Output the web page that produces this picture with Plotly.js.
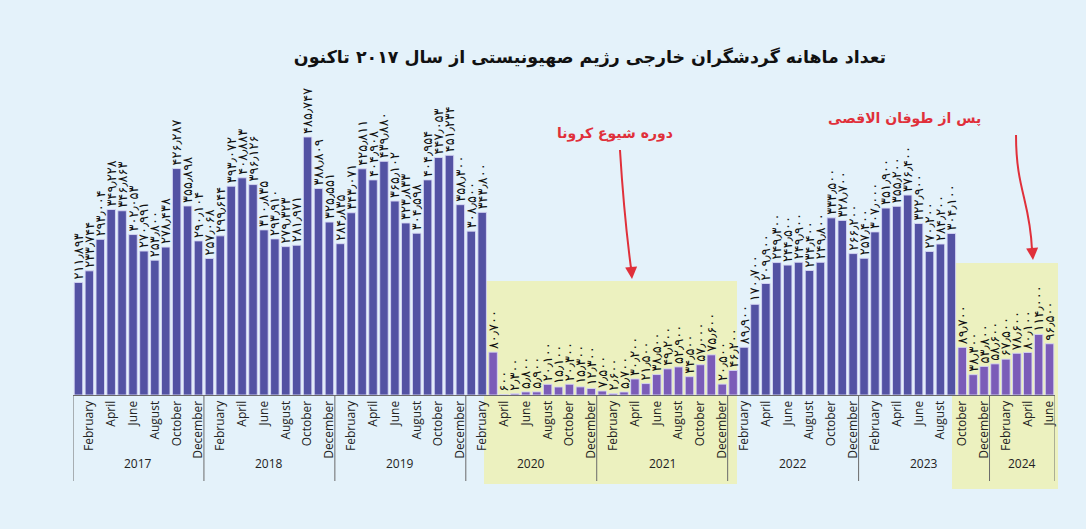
<!DOCTYPE html>
<html>
<head>
<meta charset="utf-8">
<script src="https://cdn.plot.ly/plotly-3.0.1.min.js"></script>
<style>
html,body{margin:0;padding:0;background:#E4F2FA;}
#chart{width:1086px;height:529px;}
</style>
</head>
<body>
<div id="chart"></div>
<script>
// ---- data ----
const years = ['2017','2018','2019','2020','2021','2022','2023','2024'];
const monthNames = ['January','February','March','April','May','June','July','August','September','October','November','December'];
const v2017 = [211893, 233744, 293004, 349228, 346863, 302053, 270991, 253800, 278438, 426287, 355898, 290104];
const v2018 = [257068, 299644, 393072, 408883, 396126, 310835, 293910, 279323, 281971, 485747, 388809, 325551];
const v2019 = [284835, 343071, 425811, 404908, 439880, 365102, 323833, 304598, 404954, 447053, 451234, 358300];
const v2020 = [308500, 343800, 80700, 600, 2300, 5800, 5900, 20100, 15100, 20300, 15300, 12300];
const v2021 = [7500, 2600, 5700, 30200, 21500, 38500, 49200, 52900, 34500, 57000, 75600, 20500];
const v2022 = [46200, 89900, 170700, 209900, 249300, 244500, 249900, 234400, 249800, 333500, 328700, 266200];
const v2023 = [257400, 307000, 351900, 355200, 376400, 322900, 270200, 284200, 304100, 89700, 38300, 53800];
const v2024 = [58600, 67500, 78600, 80100, 114000, 96500];
const shownMonths = ['February','April','June','August','October','December'];
const titleText = 'تعداد ماهانه گردشگران خارجی رژیم صهیونیستی از سال ۲۰۱۷ تاکنون';
const noteCovid = 'دوره شیوع کرونا';
const noteAqsa = 'پس از طوفان الاقصی';
// highlighted periods (first / last month key)
const covidStart = '2020-March', covidEnd = '2022-January';
const aqsaStart = '2023-October', aqsaEnd = '2024-June';

// ---- build ----
const perYear = [v2017, v2018, v2019, v2020, v2021, v2022, v2023, v2024];
const keys = [], vals = [], monthOf = [];
perYear.forEach((arr, yi) => arr.forEach((v, mi) => {
  keys.push(years[yi] + '-' + monthNames[mi]); vals.push(v); monthOf.push(monthNames[mi]);
}));
const idx = k => keys.indexOf(k);
const inRange = (i, a, b) => i >= idx(a) && i <= idx(b);
const fa = n => n.toLocaleString('en-US').replace(/\d/g, d => '۰۱۲۳۴۵۶۷۸۹'[d]).replace(/,/g, '٫');
const colors = keys.map((k, i) => (inRange(i, covidStart, covidEnd) || inRange(i, aqsaStart, aqsaEnd)) ? '#7B5CB8' : '#5352A3');

const tickvals = keys.filter((k, i) => shownMonths.includes(monthOf[i]));
const ticktext = tickvals.map(k => k.split('-')[1]);

const trace = {
  type: 'bar', x: keys, y: vals,
  marker: {color: colors, line: {color: 'rgba(215,215,245,0.9)', width: 1}},
  text: vals.map(fa), textposition: 'outside', textangle: -90,
  constraintext: 'none', cliponaxis: false,
  textfont: {family: 'DejaVu Sans', size: 13, color: '#111'},
  hoverinfo: 'none'
};

// plot geometry helpers (paper coords from pixel)
const L = 73, R = 1055, T = 80, B = 395;
const px = x => (x - L) / (R - L), py = y => (B - y) / (B - T);

const shapes = [];
// highlight boxes
shapes.push({type: 'rect', xref: 'paper', yref: 'paper', x0: px(484), x1: px(737), y0: py(484), y1: py(281),
  fillcolor: '#ECF1BF', line: {width: 0}, layer: 'below'});
shapes.push({type: 'rect', xref: 'paper', yref: 'paper', x0: px(952), x1: px(1058), y0: py(489), y1: py(263),
  fillcolor: '#ECF1BF', line: {width: 0}, layer: 'below'});
// year dividers
years.forEach((y, yi) => {
  const first = idx(y + '-January');
  shapes.push({type: 'line', xref: 'x', yref: 'paper', x0: first - 0.5, x1: first - 0.5, y0: 0, y1: py(481),
    line: {color: '#6a6a6a', width: 1}});
});
shapes.push({type: 'line', xref: 'x', yref: 'paper', x0: keys.length - 0.5, x1: keys.length - 0.5, y0: 0, y1: py(481),
  line: {color: '#6a6a6a', width: 1}});
// curved arrows
const P = (x, y) => px(x).toFixed(4) + ',' + py(y).toFixed(4);
shapes.push({type: 'path', xref: 'paper', yref: 'paper',
  path: 'M' + P(620, 150) + ' Q' + P(624, 215) + ' ' + P(631, 268), line: {color: '#E0303A', width: 2}});
shapes.push({type: 'path', xref: 'paper', yref: 'paper',
  path: 'M' + P(1016, 135) + ' C' + P(1016, 190) + ' ' + P(1030, 200) + ' ' + P(1032, 250), line: {color: '#E0303A', width: 2}});

const annotations = [];
years.forEach(y => {
  const ks = keys.filter(k => k.startsWith(y + '-'));
  const c = (idx(ks[0]) + idx(ks[ks.length - 1])) / 2;
  annotations.push({xref: 'x', yref: 'paper', x: c, y: py(474), text: y, showarrow: false,
    font: {family: 'Open Sans', size: 12, color: '#222'}});
});
annotations.push({xref: 'paper', yref: 'paper', x: px(615), y: py(123), text: '<b>' + noteCovid + '</b>', showarrow: false,
  font: {family: 'DejaVu Sans', size: 14, color: '#E0303A'}});
annotations.push({xref: 'paper', yref: 'paper', x: px(983), y: py(108), text: '<b>' + noteAqsa + '</b>', showarrow: false,
  font: {family: 'DejaVu Sans', size: 14, color: '#E0303A'}});
// arrow heads
annotations.push({xref: 'paper', yref: 'paper', x: px(632), y: py(279), ax: -1, ay: -14, text: '', showarrow: true,
  arrowhead: 2, arrowsize: 1.2, arrowwidth: 2, arrowcolor: '#E0303A'});
annotations.push({xref: 'paper', yref: 'paper', x: px(1033), y: py(260), ax: -1, ay: -14, text: '', showarrow: true,
  arrowhead: 2, arrowsize: 1.2, arrowwidth: 2, arrowcolor: '#E0303A'});

const layout = {
  width: 1086, height: 529,
  margin: {l: L, r: 1086 - R, t: T, b: 529 - B},
  paper_bgcolor: '#E4F2FA', plot_bgcolor: 'rgba(0,0,0,0)',
  showlegend: false, bargap: 0.22,
  title: {text: '<b>' + titleText + '</b>', x: 590 / 1086, xanchor: 'center', xref: 'container',
    y: 1 - 57 / 529, yanchor: 'middle', yref: 'container',
    font: {family: 'DejaVu Sans', size: 17.4, color: '#111'}},
  xaxis: {type: 'category', range: [-0.5, keys.length - 0.5], tickvals: tickvals, ticktext: ticktext,
    tickangle: -90, ticks: '', showline: true, linecolor: '#6a6a6a', linewidth: 1, showgrid: false,
    tickfont: {family: 'Open Sans', size: 12, color: '#222'}, fixedrange: true},
  yaxis: {range: [0, 593000], visible: false, showgrid: false, zeroline: false, fixedrange: true},
  shapes: shapes, annotations: annotations
};
Plotly.newPlot('chart', [trace], layout, {displayModeBar: false, staticPlot: true});
</script>
</body>
</html>
